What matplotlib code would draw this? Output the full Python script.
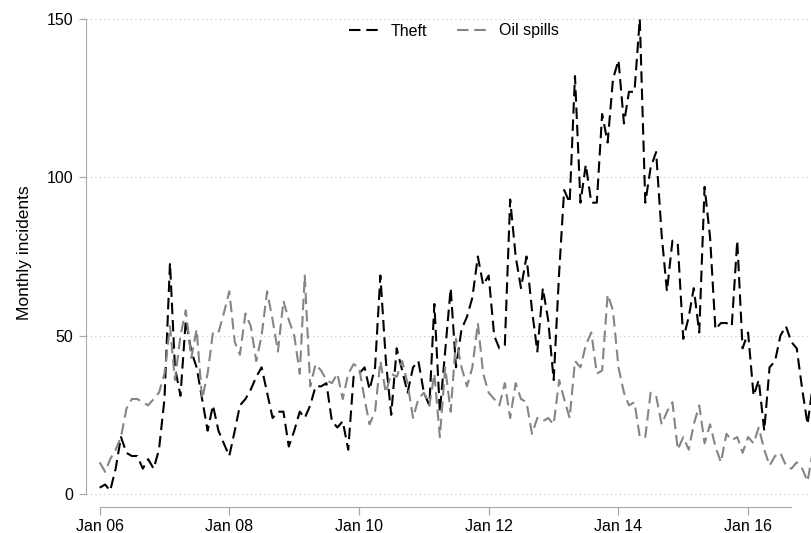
import numpy as np
import pandas as pd
import matplotlib
matplotlib.use("Agg")
import matplotlib.pyplot as plt
import matplotlib.dates as mdates

plt.rcParams['font.family'] = ['Liberation Sans', 'DejaVu Sans']

# monthly counts, Jan 2006 onwards
months = pd.date_range('2006-01-01', periods=133, freq='MS')

theft = [2, 3, 1, 8, 18, 13, 12, 12, 8, 11, 8, 14, 30, 73, 40, 31, 55, 45, 40, 30,
         20, 28, 20, 16, 12, 20, 28, 30, 33, 37, 40, 32, 24, 26, 26, 15, 20, 26, 24, 28,
         34, 34, 35, 23, 21, 23, 14, 37, 38, 40, 33, 40, 69, 42, 25, 46, 39, 32, 40, 42,
         32, 28, 60, 26, 45, 65, 40, 52, 56, 62, 75, 66, 69, 50, 46, 47, 93, 75, 65, 75,
         58, 45, 65, 55, 36, 70, 96, 92, 132, 92, 104, 92, 92, 120, 111, 131, 137, 117, 127, 127,
         150, 92, 103, 108, 82, 64, 80, 79, 49, 56, 65, 51, 97, 81, 52, 54, 54, 53, 80, 46,
         51, 31, 36, 20, 40, 42, 50, 53, 48, 46, 33, 22, 35]

oil_spills = [10, 7, 11, 14, 18, 27, 30, 30, 29, 28, 30, 32, 38, 53, 36, 50, 58, 43, 52, 30,
              38, 51, 51, 57, 64, 48, 44, 57, 53, 42, 50, 64, 55, 45, 61, 55, 50, 38, 69, 34,
              41, 39, 36, 35, 38, 30, 38, 41, 40, 30, 22, 26, 42, 32, 38, 37, 42, 35, 24, 30,
              32, 28, 38, 18, 40, 26, 49, 40, 34, 40, 54, 38, 32, 30, 28, 35, 24, 35, 30, 29,
              19, 24, 23, 24, 22, 36, 30, 24, 42, 40, 47, 51, 38, 39, 63, 58, 40, 32, 28, 29,
              18, 18, 32, 31, 22, 26, 29, 14, 18, 14, 22, 28, 16, 22, 15, 10, 19, 17, 18, 13,
              18, 16, 21, 14, 9, 12, 13, 9, 8, 10, 8, 4, 14]

y_ticks = [0, 50, 100, 150]
x_ticks = pd.date_range('2006-01-01', '2016-01-01', freq='24MS')
x_ticklabels = ['Jan 06', 'Jan 08', 'Jan 10', 'Jan 12', 'Jan 14', 'Jan 16']

fig = plt.figure(figsize=(8.12, 5.33), dpi=100)
ax = fig.add_axes([86 / 812, 1 - 507 / 533, 1 - 86 / 812, 507 / 533])

axis_gray = '#a8a8a8'
for v in y_ticks:
    ax.axhline(v, color='#c4c4c4', lw=0.8, ls=(0, (1, 3)), zorder=0)

ax.plot(months, theft, color='black', lw=1.5, dashes=(5.5, 2.8), label='Theft')
ax.plot(months, oil_spills, color='#858585', lw=1.5, dashes=(5.5, 2.8), label='Oil spills')

start = mdates.date2num(pd.Timestamp('2006-01-01'))
ax.set_xlim(start - 77, start + 4012)
ax.set_ylim(-4.1, 156.0)

ax.set_yticks(y_ticks)
ax.set_xticks(x_ticks)
ax.set_xticklabels(x_ticklabels)

for side in ['top', 'right']:
    ax.spines[side].set_visible(False)
ax.spines['left'].set_color(axis_gray)
ax.spines['bottom'].set_color(axis_gray)
ax.spines['left'].set_bounds(0, 150)
ax.spines['bottom'].set_bounds(start, mdates.date2num(pd.Timestamp('2016-09-01')))
ax.tick_params(axis='y', length=5, width=0.9, color=axis_gray, pad=4, labelsize=11.5)
ax.tick_params(axis='x', length=5.5, width=0.9, color=axis_gray, pad=3, labelsize=11.5)

fig.text(25 / 812, 1 - 252.5 / 533, 'Monthly incidents', rotation=90,
         ha='center', va='center', fontsize=12.5)

fig.legend(loc='center', bbox_to_anchor=(454 / 812, 1 - 31 / 533), ncol=2, frameon=False,
           fontsize=11.5, handlelength=1.8, handletextpad=0.8, columnspacing=1.9)

fig.savefig('out.png', dpi=100)
